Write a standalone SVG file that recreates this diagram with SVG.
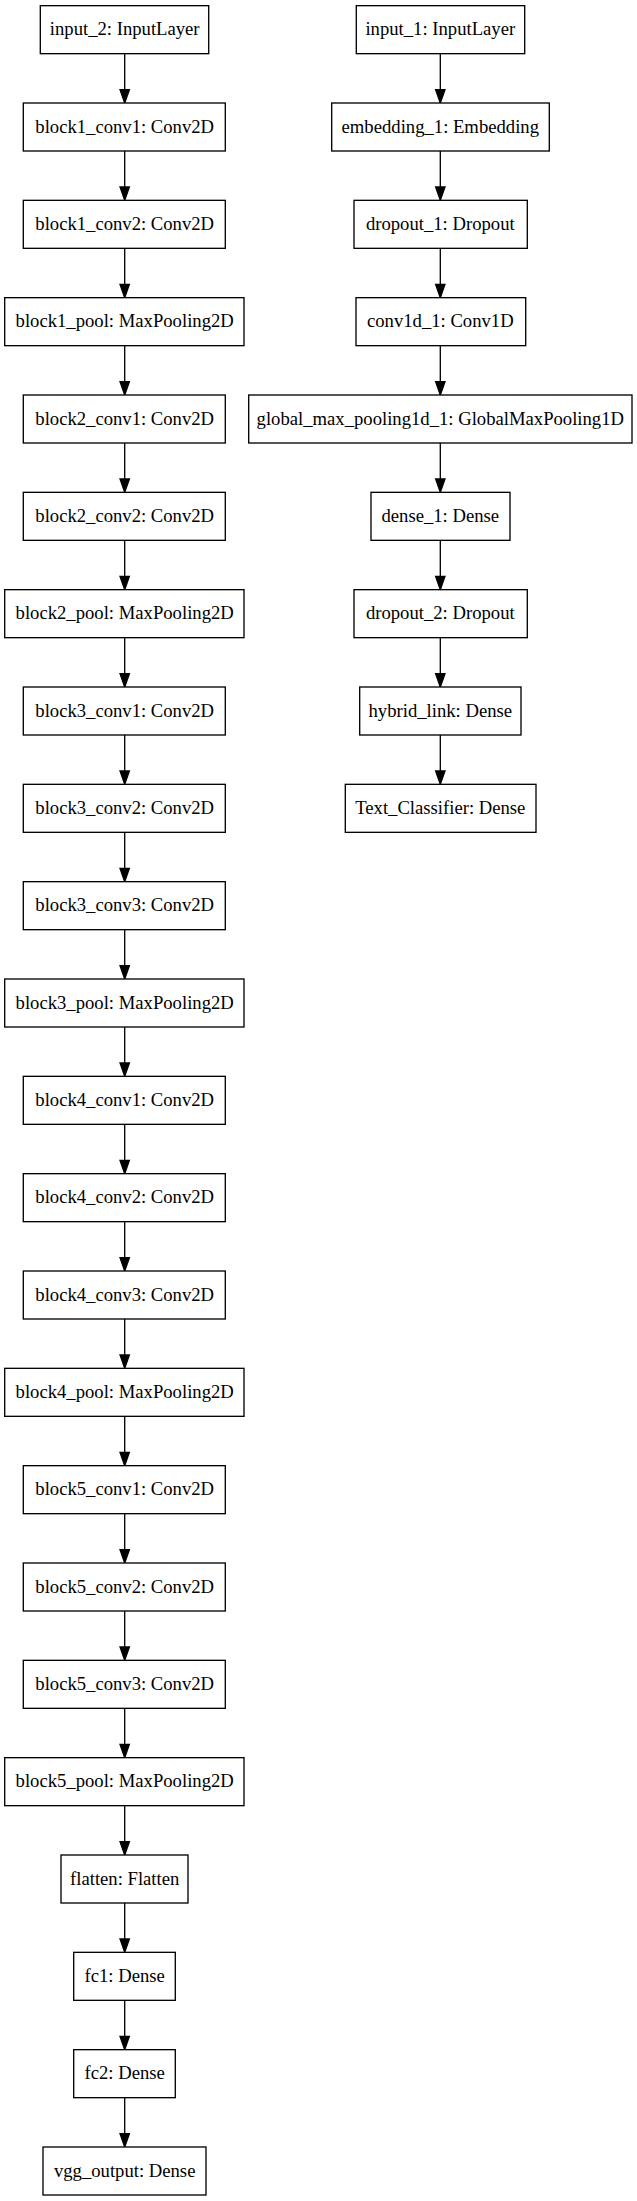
<svg xmlns="http://www.w3.org/2000/svg" width="637" height="2201" viewBox="0 0 637 2201">
<style>
.n rect{fill:#fff;stroke:#000;stroke-width:1.33}
.n text{font-family:"Liberation Serif","Times New Roman",serif;font-size:18.67px;text-anchor:middle;fill:#000}
#edges line{stroke:#000;stroke-width:1.33;marker-end:url(#ah)}
</style>
<defs>
<marker id="ah" markerUnits="userSpaceOnUse" markerWidth="14" markerHeight="10" refX="0" refY="4.67" orient="auto" overflow="visible">
<path d="M0,0 L13.33,4.67 L0,9.33 Z" fill="#000" stroke="#000" stroke-width="1.33"/>
</marker>
</defs>
<rect width="637" height="2201" fill="#fff"/>
<g id="edges">
<line x1="124.7" y1="53.67" x2="124.7" y2="89.67"/>
<line x1="124.7" y1="151" x2="124.7" y2="187"/>
<line x1="124.7" y1="248.33" x2="124.7" y2="284.33"/>
<line x1="124.7" y1="345.67" x2="124.7" y2="381.67"/>
<line x1="124.7" y1="443" x2="124.7" y2="479"/>
<line x1="124.7" y1="540.33" x2="124.7" y2="576.33"/>
<line x1="124.7" y1="637.67" x2="124.7" y2="673.67"/>
<line x1="124.7" y1="735" x2="124.7" y2="771"/>
<line x1="124.7" y1="832.33" x2="124.7" y2="868.33"/>
<line x1="124.7" y1="929.67" x2="124.7" y2="965.67"/>
<line x1="124.7" y1="1027" x2="124.7" y2="1063"/>
<line x1="124.7" y1="1124.33" x2="124.7" y2="1160.33"/>
<line x1="124.7" y1="1221.67" x2="124.7" y2="1257.67"/>
<line x1="124.7" y1="1319" x2="124.7" y2="1355"/>
<line x1="124.7" y1="1416.33" x2="124.7" y2="1452.33"/>
<line x1="124.7" y1="1513.67" x2="124.7" y2="1549.67"/>
<line x1="124.7" y1="1611" x2="124.7" y2="1647"/>
<line x1="124.7" y1="1708.33" x2="124.7" y2="1744.33"/>
<line x1="124.7" y1="1805.67" x2="124.7" y2="1841.67"/>
<line x1="124.7" y1="1903" x2="124.7" y2="1939"/>
<line x1="124.7" y1="2000.33" x2="124.7" y2="2036.33"/>
<line x1="124.7" y1="2097.67" x2="124.7" y2="2133.67"/>
<line x1="440.3" y1="53.67" x2="440.3" y2="89.67"/>
<line x1="440.3" y1="151" x2="440.3" y2="187"/>
<line x1="440.3" y1="248.33" x2="440.3" y2="284.33"/>
<line x1="440.3" y1="345.67" x2="440.3" y2="381.67"/>
<line x1="440.3" y1="443" x2="440.3" y2="479"/>
<line x1="440.3" y1="540.33" x2="440.3" y2="576.33"/>
<line x1="440.3" y1="637.67" x2="440.3" y2="673.67"/>
<line x1="440.3" y1="735" x2="440.3" y2="771"/>
</g>
<g id="input_2" class="n"><rect x="40.3" y="5.67" width="168.4" height="48"/><text x="124.7" y="35.37">input_2: InputLayer</text></g>
<g id="block1_conv1" class="n"><rect x="23.3" y="103" width="202" height="48"/><text x="124.7" y="132.7">block1_conv1: Conv2D</text></g>
<g id="block1_conv2" class="n"><rect x="23.3" y="200.33" width="202" height="48"/><text x="124.7" y="230.03">block1_conv2: Conv2D</text></g>
<g id="block1_pool" class="n"><rect x="4.7" y="297.67" width="239.3" height="48"/><text x="124.7" y="327.37">block1_pool: MaxPooling2D</text></g>
<g id="block2_conv1" class="n"><rect x="23.3" y="395" width="202" height="48"/><text x="124.7" y="424.7">block2_conv1: Conv2D</text></g>
<g id="block2_conv2" class="n"><rect x="23.3" y="492.33" width="202" height="48"/><text x="124.7" y="522.03">block2_conv2: Conv2D</text></g>
<g id="block2_pool" class="n"><rect x="4.7" y="589.67" width="239.3" height="48"/><text x="124.7" y="619.37">block2_pool: MaxPooling2D</text></g>
<g id="block3_conv1" class="n"><rect x="23.3" y="687" width="202" height="48"/><text x="124.7" y="716.7">block3_conv1: Conv2D</text></g>
<g id="block3_conv2" class="n"><rect x="23.3" y="784.33" width="202" height="48"/><text x="124.7" y="814.03">block3_conv2: Conv2D</text></g>
<g id="block3_conv3" class="n"><rect x="23.3" y="881.67" width="202" height="48"/><text x="124.7" y="911.37">block3_conv3: Conv2D</text></g>
<g id="block3_pool" class="n"><rect x="4.7" y="979" width="239.3" height="48"/><text x="124.7" y="1008.7">block3_pool: MaxPooling2D</text></g>
<g id="block4_conv1" class="n"><rect x="23.3" y="1076.33" width="202" height="48"/><text x="124.7" y="1106.03">block4_conv1: Conv2D</text></g>
<g id="block4_conv2" class="n"><rect x="23.3" y="1173.67" width="202" height="48"/><text x="124.7" y="1203.37">block4_conv2: Conv2D</text></g>
<g id="block4_conv3" class="n"><rect x="23.3" y="1271" width="202" height="48"/><text x="124.7" y="1300.7">block4_conv3: Conv2D</text></g>
<g id="block4_pool" class="n"><rect x="4.7" y="1368.33" width="239.3" height="48"/><text x="124.7" y="1398.03">block4_pool: MaxPooling2D</text></g>
<g id="block5_conv1" class="n"><rect x="23.3" y="1465.67" width="202" height="48"/><text x="124.7" y="1495.37">block5_conv1: Conv2D</text></g>
<g id="block5_conv2" class="n"><rect x="23.3" y="1563" width="202" height="48"/><text x="124.7" y="1592.7">block5_conv2: Conv2D</text></g>
<g id="block5_conv3" class="n"><rect x="23.3" y="1660.33" width="202" height="48"/><text x="124.7" y="1690.03">block5_conv3: Conv2D</text></g>
<g id="block5_pool" class="n"><rect x="4.7" y="1757.67" width="239.3" height="48"/><text x="124.7" y="1787.37">block5_pool: MaxPooling2D</text></g>
<g id="flatten" class="n"><rect x="61" y="1855" width="127" height="48"/><text x="124.7" y="1884.7">flatten: Flatten</text></g>
<g id="fc1" class="n"><rect x="73.7" y="1952.33" width="101.6" height="48"/><text x="124.7" y="1982.03">fc1: Dense</text></g>
<g id="fc2" class="n"><rect x="73.7" y="2049.67" width="101.6" height="48"/><text x="124.7" y="2079.37">fc2: Dense</text></g>
<g id="vgg_output" class="n"><rect x="43" y="2147" width="163" height="48"/><text x="124.7" y="2176.7">vgg_output: Dense</text></g>
<g id="input_1" class="n"><rect x="356.3" y="5.67" width="168.4" height="48"/><text x="440.3" y="35.37">input_1: InputLayer</text></g>
<g id="embedding_1" class="n"><rect x="331.7" y="103" width="217.6" height="48"/><text x="440.3" y="132.7">embedding_1: Embedding</text></g>
<g id="dropout_1" class="n"><rect x="354" y="200.33" width="173.3" height="48"/><text x="440.3" y="230.03">dropout_1: Dropout</text></g>
<g id="conv1d_1" class="n"><rect x="356" y="297.67" width="169.7" height="48"/><text x="440.3" y="327.37">conv1d_1: Conv1D</text></g>
<g id="global_max_pooling1d_1" class="n"><rect x="248.7" y="395" width="383.3" height="48"/><text x="440.3" y="424.7">global_max_pooling1d_1: GlobalMaxPooling1D</text></g>
<g id="dense_1" class="n"><rect x="371" y="492.33" width="139" height="48"/><text x="440.3" y="522.03">dense_1: Dense</text></g>
<g id="dropout_2" class="n"><rect x="354" y="589.67" width="173.3" height="48"/><text x="440.3" y="619.37">dropout_2: Dropout</text></g>
<g id="hybrid_link" class="n"><rect x="359.7" y="687" width="161.3" height="48"/><text x="440.3" y="716.7">hybrid_link: Dense</text></g>
<g id="Text_Classifier" class="n"><rect x="345.3" y="784.33" width="190.7" height="48"/><text x="440.3" y="814.03">Text_Classifier: Dense</text></g>
</svg>
